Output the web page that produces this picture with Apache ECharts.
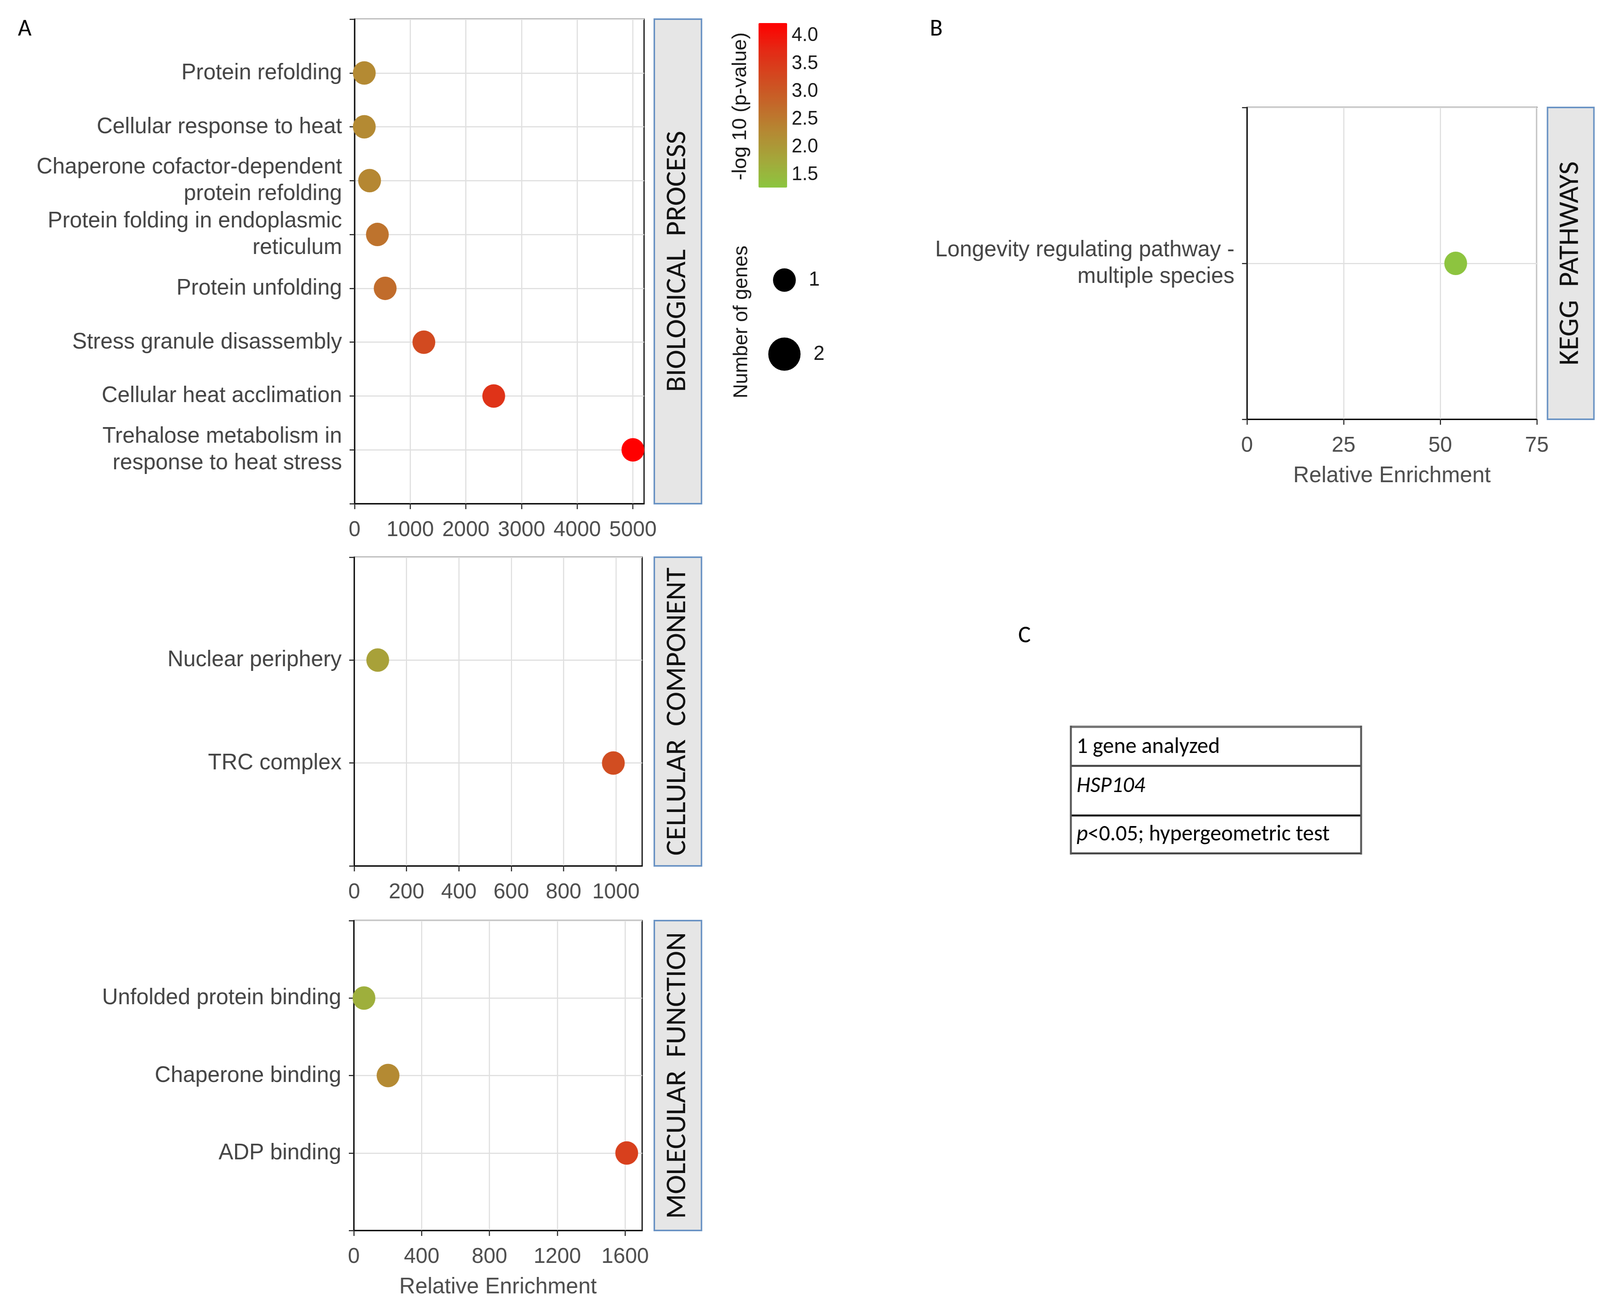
<!DOCTYPE html>
<html><head><meta charset="utf-8">
<script src="https://cdn.jsdelivr.net/npm/echarts@6/dist/echarts.min.js"></script>
<style>html,body{margin:0;padding:0;background:#fff;overflow:hidden}#c{width:4206px;height:3350px;transform-origin:0 0}</style>
</head><body><div id="c"></div>
<script>
// ---------------- data ----------------
const bpTerms = ['Protein refolding','Cellular response to heat','Chaperone cofactor-dependent\nprotein refolding','Protein folding in endoplasmic\nreticulum','Protein unfolding','Stress granule disassembly','Cellular heat acclimation','Trehalose metabolism in\nresponse to heat stress'];
const bpEnrichment = [175, 175, 270, 410, 550, 1245, 2500, 5000];
const bpLogP = [2.25, 2.25, 2.3, 2.6, 2.7, 3.25, 3.6, 4.23];
const bpGenes = [1, 1, 1, 1, 1, 1, 1, 1];

const ccTerms = ['Nuclear periphery','TRC complex'];
const ccEnrichment = [90, 990];
const ccLogP = [1.88, 3.2];
const ccGenes = [1, 1];

const mfTerms = ['Unfolded protein binding','Chaperone binding','ADP binding'];
const mfEnrichment = [60, 202, 1609];
const mfLogP = [1.65, 2.25, 3.4];
const mfGenes = [1, 1, 1];

const keggTerms = ['Longevity regulating pathway -\nmultiple species'];
const keggEnrichment = [54];
const keggLogP = [1.3];
const keggGenes = [1];

const bpTicks = [0, 1000, 2000, 3000, 4000, 5000];
const ccTicks = [0, 200, 400, 600, 800, 1000];
const mfTicks = [0, 400, 800, 1200, 1600];
const keggTicks = [0, 25, 50, 75];
const colorTicks = [1.5, 2.0, 2.5, 3.0, 3.5, 4.0];
const sizeLegendGenes = [1, 2];
const colorRange = [1.27, 4.23];
const colorStops = ['#8cc63f','#a4a83b','#b48a33','#c3692a','#d24a20','#e42a15','#ff0000'];

// ---------------- fit the 4206x3350 layout to the viewport ----------------
const W = 4206, H = 3350;
const sx = (window.innerWidth || W) / W, sy = (window.innerHeight || H) / H;
const el = document.getElementById('c');
if (Math.abs(sx - 1) > 0.001 || Math.abs(sy - 1) > 0.001) el.style.transform = 'scale(' + sx + ',' + sy + ')';

// ---------------- styles ----------------
const FONT = 'Liberation Sans, Arial, sans-serif';
const CAL = 'Carlito, Liberation Sans, Arial, sans-serif';
const DOT = 60;
const AX = '#000';
const GRIDC = '#e0e0e0';
const TXT = '#444';

function xAxisFor(gi, max, ticks, withName) {
  return {
    type: 'value', gridIndex: gi, min: 0, max: max, interval: ticks[1] - ticks[0],
    axisLine: { show: true, onZero: false, lineStyle: { color: AX, width: 3 } },
    axisTick: { show: true, length: 14, customValues: ticks, lineStyle: { color: '#333', width: 3 } },
    axisLabel: { customValues: ticks, formatter: v => String(v), fontSize: 56, fontFamily: FONT, color: '#4d4d4d', margin: 40 },
    splitLine: { show: true, lineStyle: { color: GRIDC, width: 3 } },
    name: withName ? 'Relative Enrichment' : '', nameLocation: 'middle', nameGap: 116,
    nameTextStyle: { fontSize: 58, fontFamily: FONT, color: '#4d4d4d' }
  };
}
function yAxisFor(gi, terms) {
  return {
    type: 'value', gridIndex: gi, min: 0, max: terms.length + 1, interval: 1, inverse: true,
    axisLine: { show: true, onZero: false, lineStyle: { color: AX, width: 3 } },
    axisTick: { show: true, length: 13, lineStyle: { color: '#333', width: 3 } },
    axisLabel: { formatter: v => terms[v - 1] || '', fontSize: 58, lineHeight: 68, fontFamily: FONT, color: TXT, margin: 33, align: 'right' },
    splitLine: { show: true, lineStyle: { color: GRIDC, width: 3 } }
  };
}
function dots(idx, terms, enr, logp, genes) {
  return {
    type: 'scatter', xAxisIndex: idx, yAxisIndex: idx, z: 5,
    data: terms.map((t, i) => [enr[i], i + 1, logp[i], genes[i]]),
    symbolSize: d => DOT * Math.sqrt(d[3]),
    itemStyle: { opacity: 1 }
  };
}
const gridBase = { show: true, borderColor: '#000', borderWidth: 3, backgroundColor: 'transparent', containLabel: false, outerBoundsMode: 'none' };
const grids = [
  Object.assign({ left: 932, top: 49, width: 761, height: 1240 }, gridBase),
  Object.assign({ left: 931, top: 1426, width: 757, height: 790 }, gridBase),
  Object.assign({ left: 930, top: 2356, width: 758, height: 793 }, gridBase),
  Object.assign({ left: 3278, top: 275, width: 762, height: 798 }, gridBase),
  { left: 1994, top: 59, width: 75, height: 421, show: false, containLabel: false, outerBoundsMode: 'none' },
  { left: 2012, top: 622, width: 100, height: 379, show: false, containLabel: false, outerBoundsMode: 'none' }
];

function strip(x, y, w, h, label) {
  return [
    { type: 'rect', shape: { x: x, y: y, width: w, height: h }, style: { fill: '#e6e6e6', stroke: '#6a93c4', lineWidth: 4 }, z: 1 },
    { type: 'text', x: x + w / 2, y: y + h / 2, rotation: Math.PI / 2, z: 2,
      style: { text: label, align: 'center', verticalAlign: 'middle', fontSize: 74, fontFamily: CAL, fill: '#111' } }
  ];
}
function letter(t, x, y) {
  return { type: 'text', x: x, y: y, style: { text: t, align: 'center', verticalAlign: 'middle', fontSize: 62, fontFamily: CAL, fill: '#000' } };
}
const graphics = [].concat(
  [letter('A', 65, 75), letter('B', 2461, 75), letter('C', 2693, 1628),
   { type: 'text', x: 1947, y: 272, rotation: Math.PI / 2, style: { text: '-log 10 (p-value)', align: 'center', verticalAlign: 'middle', fontSize: 52, fontFamily: FONT, fill: '#1a1a1a' } },
   { type: 'text', x: 1950, y: 824, rotation: Math.PI / 2, style: { text: 'Number of genes', align: 'center', verticalAlign: 'middle', fontSize: 51, fontFamily: FONT, fill: '#1a1a1a' } }
  ],
  strip(1720, 49, 124, 1240, 'BIOLOGICAL  PROCESS'),
  strip(1720, 1426, 124, 790, 'CELLULAR  COMPONENT'),
  strip(1720, 2356, 124, 793, 'MOLECULAR  FUNCTION'),
  strip(4068, 275, 122, 798, 'KEGG  PATHWAYS'),
  [
   { type: 'line', shape: { x1: 2815, y1: 1860, x2: 3578, y2: 1860 }, style: { stroke: '#777', lineWidth: 6 } },
   { type: 'line', shape: { x1: 2815, y1: 1960, x2: 3578, y2: 1960 }, style: { stroke: '#444', lineWidth: 5 } },
   { type: 'line', shape: { x1: 2815, y1: 2087, x2: 3578, y2: 2087 }, style: { stroke: '#111', lineWidth: 5 } },
   { type: 'line', shape: { x1: 2815, y1: 2184, x2: 3578, y2: 2184 }, style: { stroke: '#444', lineWidth: 5 } },
   { type: 'line', shape: { x1: 2815, y1: 1857, x2: 2815, y2: 2187 }, style: { stroke: '#555', lineWidth: 5 } },
   { type: 'line', shape: { x1: 3578, y1: 1857, x2: 3578, y2: 2187 }, style: { stroke: '#555', lineWidth: 5 } },
   { type: 'text', x: 2830, y: 1912, style: { text: '1 gene analyzed', align: 'left', verticalAlign: 'middle', fontSize: 58, fontFamily: CAL, fill: '#000' } },
   { type: 'text', x: 2830, y: 2012, style: { text: 'HSP104', align: 'left', verticalAlign: 'middle', fontSize: 58, fontStyle: 'italic', fontFamily: CAL, fill: '#000' } },
   { type: 'text', x: 2830, y: 2136, style: { text: '{i|p}<0.05; hypergeometric test', align: 'left', verticalAlign: 'middle', fontSize: 58, fontFamily: CAL, fill: '#000',
       rich: { i: { fontStyle: 'italic', fontSize: 58, fontFamily: CAL, fill: '#000' } } } }
  ]
);

const option = {
  animation: false,
  backgroundColor: '#fff',
  grid: grids,
  xAxis: [
    xAxisFor(0, 5200, bpTicks, false),
    xAxisFor(1, 1100, ccTicks, false),
    xAxisFor(2, 1700, mfTicks, true),
    xAxisFor(3, 75, keggTicks, true),
    { type: 'value', gridIndex: 4, show: false, min: 0, max: 1 },
    { type: 'value', gridIndex: 5, show: false, min: -1, max: 1 }
  ],
  yAxis: [
    yAxisFor(0, bpTerms),
    yAxisFor(1, ccTerms),
    yAxisFor(2, mfTerms),
    yAxisFor(3, keggTerms),
    { type: 'value', gridIndex: 4, position: 'right', min: colorRange[0], max: colorRange[1],
      axisLine: { show: false }, axisTick: { show: false }, splitLine: { show: false },
      axisLabel: { customValues: colorTicks, formatter: v => v.toFixed(1), fontSize: 50, fontFamily: FONT, color: '#1a1a1a', margin: 12 } },
    { type: 'value', gridIndex: 5, show: false, min: 0.5, max: 2.5, inverse: true }
  ],
  visualMap: [{
    type: 'continuous', min: colorRange[0], max: colorRange[1], dimension: 2, seriesIndex: [0, 1, 2, 3],
    inRange: { color: colorStops }, left: 1994, top: 59, itemWidth: 75, itemHeight: 421,
    calculable: false, padding: 0, orient: 'vertical', hoverLink: false, text: null,
    textStyle: { color: 'transparent' }
  }],
  series: [
    dots(0, bpTerms, bpEnrichment, bpLogP, bpGenes),
    dots(1, ccTerms, ccEnrichment, ccLogP, ccGenes),
    dots(2, mfTerms, mfEnrichment, mfLogP, mfGenes),
    dots(3, keggTerms, keggEnrichment, keggLogP, keggGenes),
    { type: 'scatter', xAxisIndex: 5, yAxisIndex: 5,
      data: sizeLegendGenes.map((g, i) => [0, i + 1, g]),
      symbolSize: d => DOT * Math.sqrt(d[2]),
      itemStyle: { color: '#000', opacity: 1 },
      label: { show: true, position: 'right', distance: 34, formatter: p => String(p.value[2]), fontSize: 52, fontFamily: FONT, color: '#1a1a1a' } }
  ],
  graphic: graphics
};
const chart = echarts.init(el, null, { width: W, height: H });
chart.setOption(option);
</script>
</body></html>
